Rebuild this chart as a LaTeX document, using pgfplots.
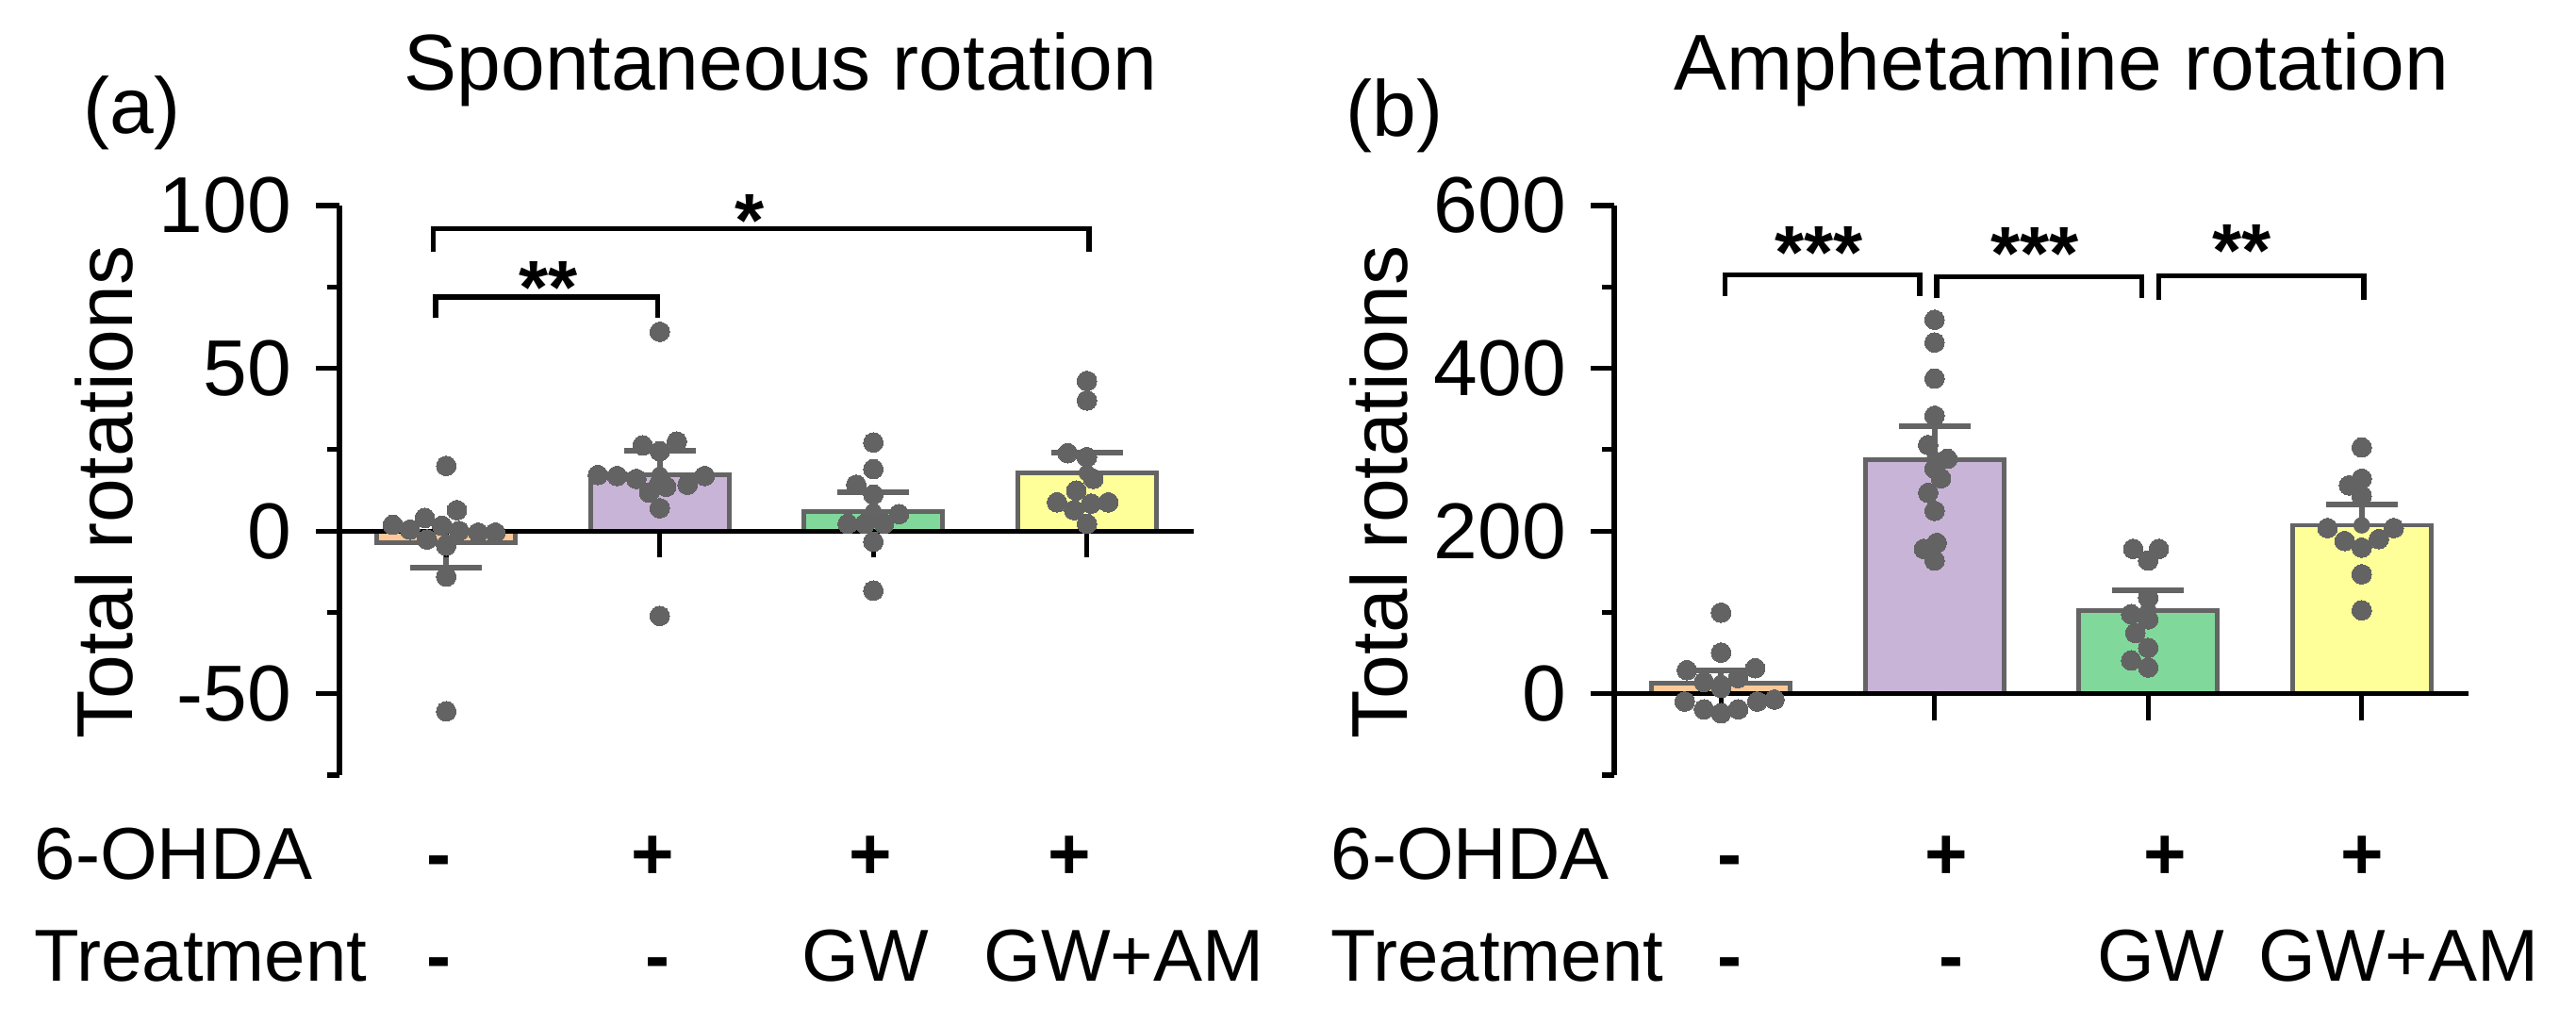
\documentclass[border=0pt]{standalone}
\usepackage{fontspec}
\setmainfont{Liberation Sans}
\usepackage{pgfplots}
\pgfplotsset{compat=1.18}

\definecolor{barorange}{HTML}{FFC896}
\definecolor{barpurple}{HTML}{C8B4D6}
\definecolor{bargreen}{HTML}{80D99A}
\definecolor{baryellow}{HTML}{FFFF99}
\definecolor{edgegray}{HTML}{646464}
\definecolor{dotgray}{HTML}{636363}

\newcommand{\tickfont}{\fontsize{21}{21}\selectfont}
\newcommand{\rowfont}{\fontsize{19.5}{19.5}\selectfont}
\newcommand{\starfont}{\fontsize{20}{20}\selectfont\bfseries}

\pgfplotsset{
  rotpanel/.style={
    scale only axis, width=226.5pt, height=151pt, anchor=south west,
    xmin=0.5, xmax=4.5,
    axis x line=none, axis y line*=left,
    axis line style={line width=1.3pt, black},
    tick align=outside, major tick length=6.25pt, minor tick length=3.25pt,
    every tick/.append style={line width=1.3pt, black},
    yticklabel style={font=\tickfont, xshift=-3pt},
    /pgf/number format/assume math mode=true,
    clip=false,
  },
  meanbar/.style={ybar, bar width=0.65, bar shift=0pt, draw=edgegray, line width=1.2pt, fill=#1},
  sem/.style={only marks, mark=none, edgegray,
    /pgfplots/error bars/y dir=#1, /pgfplots/error bars/y explicit,
    /pgfplots/error bars/error bar style={line width=1.5pt, edgegray},
    /pgfplots/error bars/error mark options={rotate=90, mark size=9.5pt, line width=1.5pt, edgegray}},
  dots/.style={only marks, color=dotgray, mark=*, mark size=2.6pt, mark options={draw=dotgray, fill=dotgray, line width=0pt}},
}

\begin{document}
\begin{tikzpicture}
\useasboundingbox (0,0) rectangle (683pt,271.75pt);

% (a) spontaneous rotation
\begin{axis}[rotpanel, at={(90pt,66.25pt)},
  ymin=-75, ymax=100,
  ytick={-50,0,50,100}, minor ytick={-75,-25,25,75}]
\addplot[meanbar=barorange] coordinates {(1,-3.6)};
\addplot[meanbar=barpurple] coordinates {(2,17.2)};
\addplot[meanbar=bargreen] coordinates {(3,6.0)};
\addplot[meanbar=baryellow] coordinates {(4,17.8)};
\addplot[sem=minus] coordinates {(1,-3.6) +- (0,7.7)};
\addplot[sem=plus] coordinates {(2,17.2) +- (0,7.6) (3,6.0) +- (0,5.8) (4,17.8) +- (0,6.3)};
\addplot[dots] coordinates {
 (0.75,1.9) (0.90,4.0) (1.05,6.4) (1.00,20) (0.83,0.4) (0.98,1.6) (1.06,0)
 (1.15,-0.5) (1.23,-0.5) (0.91,-2.6) (1.00,-4.5) (1.00,-14) (1.00,-55.4)
 (2.00,61.2) (1.92,26.3) (2.08,27.5) (2.00,24.5) (1.71,17.2) (1.80,16.9) (1.89,16.0)
 (2.00,14.8) (2.13,14.2) (2.21,16.9) (1.95,11.8) (2.03,13.6) (2.00,7.0) (2.00,-26.1)
 (3.00,27.2) (3.00,19.0) (2.92,14.2) (3.00,11.2) (3.12,5.2) (2.88,2.2) (2.96,2.2)
 (3.05,2.2) (3.00,-3.3) (3.00,-18.3)
 (4.00,46.1) (4.00,40.1) (3.91,23.9) (4.00,22.7) (4.03,16.0) (3.95,12.4) (3.86,8.8)
 (4.10,8.8) (4.02,8.4) (3.94,6.4) (4.00,2.2)
};
\draw[line width=1.3pt] (axis cs:0.5,0) -- (axis cs:4.5,0);
\pgfplotsinvokeforeach{1,2,3,4}{\draw[line width=1.3pt] (axis cs:#1,0) -- ++(0pt,-7pt);}
\draw[line width=1.3pt] (axis cs:0.95,65.4) -- (axis cs:0.95,71.9) -- (axis cs:1.99,71.9) -- (axis cs:1.99,65.4);
\draw[line width=1.3pt] (axis cs:0.94,85.8) -- (axis cs:0.94,93) -- (axis cs:4.01,93) -- (axis cs:4.01,85.8);
\node[anchor=base, font=\starfont, inner sep=0pt, yshift=-11pt] at (axis cs:1.48,79.7) {**};
\node[anchor=base, font=\starfont, inner sep=0pt, yshift=-11pt] at (axis cs:2.42,100.2) {*};
\end{axis}

% (b) amphetamine rotation
\begin{axis}[rotpanel, at={(428pt,66.25pt)},
  ymin=-100, ymax=600,
  ytick={0,200,400,600}, minor ytick={-100,100,300,500}]
\addplot[meanbar=barorange] coordinates {(1,13)};
\addplot[meanbar=barpurple] coordinates {(2,287.8)};
\addplot[meanbar=bargreen] coordinates {(3,102.5)};
\addplot[meanbar=baryellow] coordinates {(4,207)};
\addplot[sem=plus] coordinates {(1,13) +- (0,15.9) (2,287.8) +- (0,40.9) (3,102.5) +- (0,25) (4,207) +- (0,25.4)};
\addplot[dots] coordinates {
 (1.00,99.6) (1.00,50.5) (0.84,28.9) (1.16,31.3) (0.92,14.4) (1.00,7.2) (1.08,19.2)
 (0.83,-9.6) (0.92,-19.2) (1.00,-24) (1.08,-19.2) (1.17,-9.6) (1.25,-7.2)
 (2.00,459.6) (2.00,431.7) (2.00,387.4) (2.00,341.7) (1.97,305.6) (2.06,288.7) (2.00,276.7)
 (2.03,264.7) (1.97,246.9) (2.00,224.7) (1.95,178) (2.01,185.3) (2.00,163.6)
 (2.93,178) (3.05,178) (3.00,163.6) (3.00,117.9) (2.92,97.7) (3.00,91.4) (2.94,74.6)
 (3.00,56.3) (2.92,40.9) (3.00,32.2)
 (4.00,302.7) (4.00,264.2) (3.94,256) (4.00,243) (3.84,203.6) (4.15,203.6) (3.92,187.7)
 (4.08,190) (4.00,179.5) (4.00,146.8) (4.00,102.5)
};
\draw[line width=1.3pt] (axis cs:0.5,0) -- (axis cs:4.5,0);
\pgfplotsinvokeforeach{1,2,3,4}{\draw[line width=1.3pt] (axis cs:#1,0) -- ++(0pt,-7pt);}
\draw[line width=1.3pt] (axis cs:1.02,488.4) -- (axis cs:1.02,515) -- (axis cs:1.93,515) -- (axis cs:1.93,488.4);
\draw[line width=1.3pt] (axis cs:2.01,486) -- (axis cs:2.01,512.5) -- (axis cs:2.97,512.5) -- (axis cs:2.97,486);
\draw[line width=1.3pt] (axis cs:3.05,483.6) -- (axis cs:3.05,513.5) -- (axis cs:4.01,513.5) -- (axis cs:4.01,483.6);
\node[anchor=base, font=\starfont, inner sep=0pt, yshift=-11pt] at (axis cs:1.46,560.6) {***};
\node[anchor=base, font=\starfont, inner sep=0pt, yshift=-11pt] at (axis cs:2.47,560) {***};
\node[anchor=base, font=\starfont, inner sep=0pt, yshift=-11pt] at (axis cs:3.44,564) {**};
\end{axis}

% titles, panel letters, axis labels
\node[anchor=base, font=\tickfont, inner sep=0pt] at (207pt,247.75pt) {Spontaneous rotation};
\node[anchor=base, font=\tickfont, inner sep=0pt] at (546.5pt,247.75pt) {Amphetamine rotation};
\node[anchor=base west, font=\tickfont, inner sep=0pt] at (22pt,236.25pt) {(a)};
\node[anchor=base west, font=\tickfont, inner sep=0pt] at (356.75pt,235.5pt) {(b)};
\node[anchor=base, rotate=90, font=\tickfont, inner sep=0pt] at (35pt,141.25pt) {Total rotations};
\node[anchor=base, rotate=90, font=\tickfont, inner sep=0pt] at (373pt,141.25pt) {Total rotations};

% group rows under the panels
\node[anchor=base west, font=\rowfont, inner sep=0pt] at (9pt,38.5pt) {6-OHDA};
\node[anchor=base west, font=\rowfont, inner sep=0pt] at (9pt,11.5pt) {Treatment};
\node[anchor=base west, font=\rowfont, inner sep=0pt] at (352.75pt,38.5pt) {6-OHDA};
\node[anchor=base west, font=\rowfont, inner sep=0pt] at (352.75pt,11.5pt) {Treatment};
\foreach \x/\s in {116.25/-,173/+,230.75/+,283.5/+,458.5/-,516/+,574/+,626.25/+}
  \node[anchor=base, font=\rowfont\bfseries, inner sep=0pt] at (\x pt,38.5pt) {\s};
\foreach \x/\s in {116.25/\textbf{-},174.25/\textbf{-},229.5/GW,298/GW+AM,458.5/\textbf{-},517.25/\textbf{-},573/GW,636/GW+AM}
  \node[anchor=base, font=\rowfont, inner sep=0pt] at (\x pt,11.5pt) {\s};
\end{tikzpicture}
\end{document}
